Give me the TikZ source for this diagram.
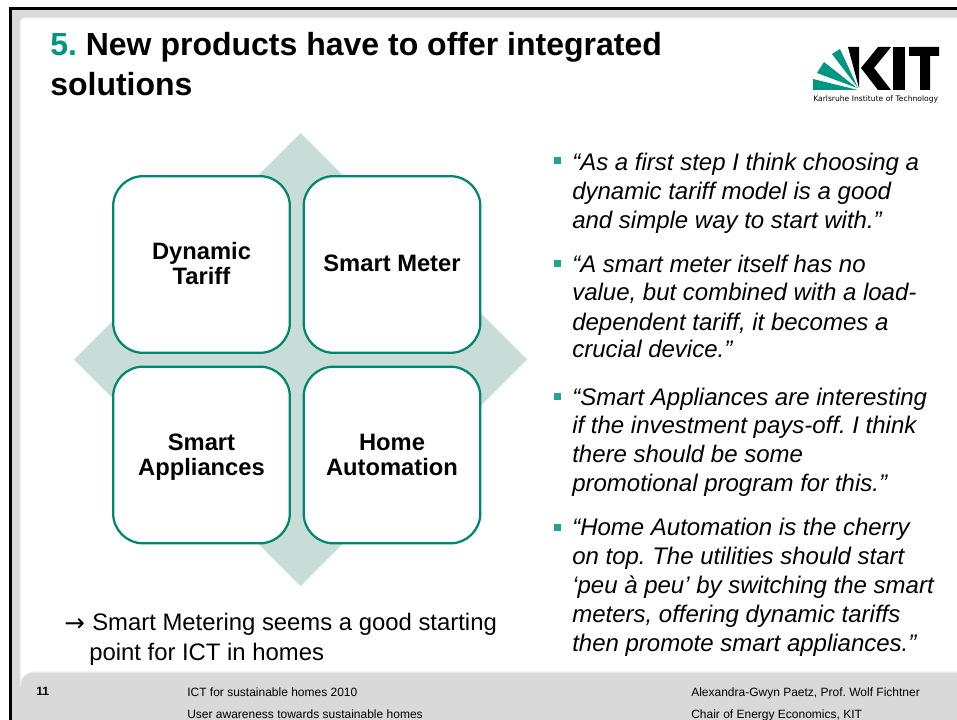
\documentclass[tikz,border=0pt]{standalone}
\usepackage{fontspec}
\setmainfont{Liberation Sans}
\newfontfamily\logofont{DejaVu Sans}
\usepackage{tikz}
\definecolor{kitgreen}{HTML}{00876F}
\definecolor{kitlogo}{HTML}{009682}
\definecolor{diam}{HTML}{C9DDD8}
\definecolor{foot}{HTML}{D9D9D9}
\definecolor{bullc}{HTML}{25A38E}
\tikzset{
  x=0.75pt,y=-0.75pt,
  titlet/.style={anchor=base west,inner sep=0,font=\fontsize{24}{28}\selectfont\bfseries},
  card/.style={draw=kitgreen,line width=1.7pt,fill=white,rounded corners=22.5pt,minimum width=132.5pt,minimum height=132.5pt,inner sep=0},
  cardt/.style={anchor=base,inner sep=0,font=\fontsize{17.8}{20}\selectfont\bfseries},
  quote/.style={anchor=base west,inner sep=0,font=\fontsize{18}{22}\selectfont\itshape},
  body/.style={anchor=base west,inner sep=0,font=\fontsize{17.9}{22}\selectfont},
  foott/.style={anchor=base west,inner sep=0,font=\fontsize{9}{11}\selectfont},
  bull/.style={fill=bullc,minimum size=5.25pt,inner sep=0},
  logot/.style={anchor=base west,inner sep=0,font=\fontsize{5.7}{7}\selectfont\logofont},
}
\begin{document}
\frenchspacing
\begin{tikzpicture}
\useasboundingbox (0,0) rectangle (957,720);
% frame
\fill[white] (0,0) rectangle (957,720);
\fill[foot] (10,8) rectangle (957,720);
\draw[black,line width=2.3pt] (10.5,720) -- (10.5,8.5) -- (957,8.5);
\fill[white,draw=white!92!black,line width=0.75pt]
  (1000,672) -- (34,672) arc[start angle=90,end angle=180,radius=10.5pt] -- (20,22)
  arc[start angle=180,end angle=90,radius=3pt] -- (1000,18) -- cycle;
% title
\node[titlet] (t1) at (50,56) {\textcolor{kitlogo}{5.} New products have to offer integrated};
\node[titlet] (t2) at (50,96) {solutions};
% logo
\fill[kitlogo] (813,79) -- (813,90) -- (858,90) -- cycle;
\fill[kitlogo] (824,62) -- (817,73) -- (857,88) -- cycle;
\fill[kitlogo] (840,49) -- (832,54) -- (858,88) -- cycle;
\fill[black] (848,47) -- (859,47) -- (859,88) -- cycle;
\fill[black] (861,68) -- (878,47) -- (891,47) -- (874,68) -- (891,90) -- (878,90) -- cycle;
\fill[black] (893,47) rectangle (905,90);
\fill[black] (909,47) -- (939,47) -- (939,56) -- (930,56) -- (930,90) -- (920,90) -- (920,56) -- (909,56) -- cycle;
\node[logot] (lt) at (813,102) {Karlsruhe Institute of Technology};
% diamond
\fill[diam] (300.5,133) -- (527,359.5) -- (300.5,586) -- (74,359.5) -- cycle;
\node[card] (a) at (201.5,264.5) {};
\node[card] (b) at (392,264.5) {};
\node[card] (c) at (201.5,455) {};
\node[card] (d) at (392,455) {};
\node[cardt] (a1) at (201.5,260) {Dynamic};
\node[cardt] (a2) at (201.5,285) {Tariff};
\node[cardt] (b1) at (392,272) {Smart Meter};
\node[cardt] (c1) at (201.5,450) {Smart};
\node[cardt] (c2) at (201.5,475) {Appliances};
\node[cardt] (d1) at (392,450) {Home};
\node[cardt] (d2) at (392,475) {Automation};
% left body
\node[body,font=\fontsize{18.5}{22}\selectfont\logofont] (e0) at (64,631) {→};
\node[body] (e1) at (92,630) {Smart Metering seems a good starting};
\node[body] (e2) at (89,660) {point for ICT in homes};
% quotes
\foreach \y/\t in {
 171/{“As a first step I think choosing a},
 200/{dynamic tariff model is a good},
 229/{and simple way to start with.”},
 273/{“A smart meter itself has no},
 301/{value, but combined with a load-},
 330/{dependent tariff, it becomes a},
 358/{crucial device.”},
 405/{“Smart Appliances are interesting},
 433/{if the investment pays-off. I think},
 462/{there should be some},
 491/{promotional program for this.”},
 535/{“Home Automation is the cherry},
 564/{on top. The utilities should start},
 593/{‘peu à peu’ by switching the smart},
 622/{meters, offering dynamic tariffs},
 651/{then promote smart appliances.”}}{\node[quote] at (572,\y) {\t};}
\foreach \y in {161,264,396,527}{\node[bull] at (557.5,\y) {};}
% footer
\node[foott,font=\fontsize{9}{11}\selectfont\bfseries] (n) at (36,695) {11};
\node[foott] (f1) at (187,696) {ICT for sustainable homes 2010};
\node[foott] (f2) at (187,718) {User awareness towards sustainable homes};
\node[foott] (f3) at (691,696) {Alexandra-Gwyn Paetz, Prof. Wolf Fichtner};
\node[foott] (f4) at (691,718) {Chair of Energy Economics, KIT};
\end{tikzpicture}
\end{document}
